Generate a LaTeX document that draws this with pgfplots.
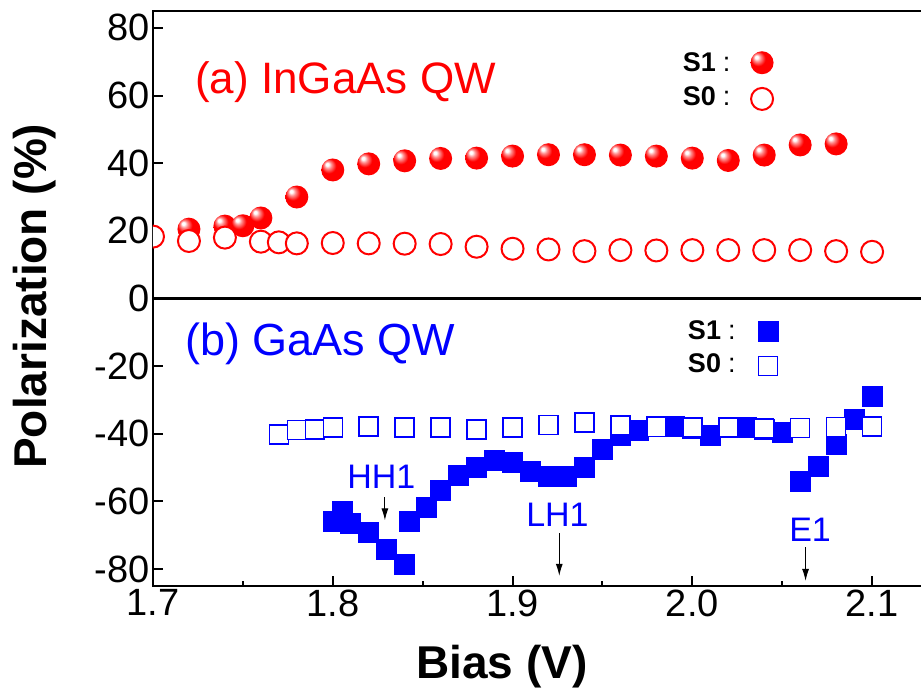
\documentclass[border=0pt]{standalone}
\usepackage{fontspec}
\setmainfont{Liberation Sans}
\usepackage{pgfplots}
\pgfplotsset{compat=1.18}
\usetikzlibrary{arrows.meta}
\definecolor{pred}{RGB}{255,0,0}
\definecolor{pblue}{RGB}{0,0,255}
\pgfdeclareradialshading{redballshade}{\pgfpoint{-13bp}{13bp}}{color(0bp)=(white); color(3bp)=(white); color(8bp)=(pred!45!white); color(16bp)=(pred); color(50bp)=(pred)}
\pgfdeclareplotmark{redball}{%
  \pgfpathcircle{\pgfpointorigin}{\pgfplotmarksize}%
  \pgfshadepath{redballshade}{0}%
  \pgfusepath{discard}}
\begin{document}
\begin{tikzpicture}
\begin{axis}[
  scale only axis, width=782pt, height=575pt,
  at={(0pt,0pt)}, anchor=south west,
  xmin=1.7, xmax=2.135, ymin=-85, ymax=85,
  xtick={1.7,1.8,1.9,2.0,2.1},
  xticklabels={1.7,1.8,1.9,2.0,2.1},
  minor xtick={1.75,1.85,1.95,2.05},
  ytick={-80,-60,-40,-20,0,20,40,60,80},
  xtick pos=left, ytick pos=left,
  tick align=inside,
  major tick length=10pt, minor tick length=5pt,
  every tick/.style={black, line width=2pt},
  axis line style={line width=2.7pt},
  tick label style={font=\fontsize{38}{40}\selectfont},
  /pgf/number format/assume math mode=true,
  xlabel={Bias (V)}, ylabel={Polarization (\%)},
  label style={font=\fontsize{46}{48}\selectfont\bfseries},
  xlabel style={at={(axis description cs:0.446,-0.140)}, anchor=center},
  ylabel style={at={(axis description cs:-0.151,0.504)}, anchor=center},
  only marks,
  clip marker paths=true,
]
% zero line
\draw[line width=2.7pt, black] (axis cs:1.7,0) -- (axis cs:2.135,0);

% InGaAs S1 (filled spheres)
\addplot[mark=redball, mark size=11.5pt] coordinates {
(1.72,20.5)(1.74,21.4)(1.75,21.5)(1.76,23.8)(1.78,30.0)(1.80,38.0)(1.82,39.8)(1.84,40.7)(1.86,41.4)(1.88,41.5)(1.90,42.1)(1.92,42.5)(1.94,42.5)(1.96,42.4)(1.98,42.1)(2.00,41.5)(2.02,40.8)(2.04,42.4)(2.06,45.4)(2.08,45.7)
};
% InGaAs S0 (open circles)
\addplot[mark=*, mark size=11pt, mark options={draw=pred, fill=white, line width=2pt}] coordinates {
(1.70,18.3)(1.72,17.0)(1.74,18.0)(1.76,16.8)(1.77,16.6)(1.78,16.3)(1.80,16.4)(1.82,16.3)(1.84,16.2)(1.86,16.1)(1.88,15.3)(1.90,14.7)(1.92,14.5)(1.94,14.0)(1.96,14.3)(1.98,14.2)(2.00,14.3)(2.02,14.3)(2.04,14.3)(2.06,14.3)(2.08,14.0)(2.10,13.8)
};
% GaAs S1 (filled squares)
\addplot[mark=square*, mark size=10pt, mark options={draw=pblue, fill=pblue, line width=0.5pt}] coordinates {
(1.80,-66.0)(1.805,-63.0)(1.81,-66.5)(1.82,-69.0)(1.83,-74.0)(1.84,-78.6)(1.8425,-66.0)(1.852,-61.6)(1.86,-56.7)(1.87,-52.4)(1.88,-49.8)(1.89,-47.8)(1.90,-48.3)(1.91,-51.2)(1.92,-52.7)(1.93,-52.5)(1.94,-50.0)(1.95,-44.5)(1.96,-40.4)(1.97,-38.9)(1.98,-37.9)(1.99,-37.9)(2.00,-38.4)(2.01,-40.4)(2.02,-38.2)(2.03,-38.2)(2.04,-38.7)(2.05,-39.4)(2.06,-54.0)(2.07,-49.6)(2.08,-43.1)(2.09,-35.7)(2.10,-29.0)
};
% GaAs S0 (open squares)
\addplot[mark=square*, mark size=9.5pt, mark options={draw=pblue, fill=white, line width=1.5pt}] coordinates {
(1.77,-40.2)(1.78,-38.9)(1.79,-38.7)(1.80,-38.1)(1.82,-37.9)(1.84,-38.1)(1.86,-38.2)(1.88,-38.7)(1.90,-38.1)(1.92,-37.4)(1.94,-36.6)(1.96,-37.5)(1.98,-38.0)(2.00,-38.1)(2.02,-38.2)(2.04,-38.5)(2.06,-38.3)(2.08,-38.0)(2.10,-37.9)
};

% legend markers
\addplot[mark=redball, mark size=11.5pt] coordinates {(2.0388,69.7)};
\addplot[mark=*, mark size=11pt, mark options={draw=pred, fill=white, line width=2pt}] coordinates {(2.0388,59.0)};
\addplot[mark=square*, mark size=10pt, mark options={draw=pblue, fill=pblue}] coordinates {(2.042,-9.6)};
\addplot[mark=square*, mark size=9.5pt, mark options={draw=pblue, fill=white, line width=1.5pt}] coordinates {(2.042,-20.0)};

% legend texts
\node[anchor=base east, font=\fontsize{27}{28}\selectfont] at (axis cs:2.0232,67.0) {\textbf{S1}\hspace{7pt}:};
\node[anchor=base east, font=\fontsize{27}{28}\selectfont] at (axis cs:2.0232,57.2) {\textbf{S0}\hspace{7pt}:};
\node[anchor=base east, font=\fontsize{27}{28}\selectfont] at (axis cs:2.026,-12.0) {\textbf{S1}\hspace{7pt}:};
\node[anchor=base east, font=\fontsize{27}{28}\selectfont] at (axis cs:2.026,-22.0) {\textbf{S0}\hspace{7pt}:};

% panel titles
\node[anchor=base west, inner sep=0pt, text=pred, font=\fontsize{44}{46}\selectfont] at (axis cs:1.7234,60.5) {(a) InGaAs QW};
\node[anchor=base west, inner sep=0pt, text=pblue, font=\fontsize{45}{47}\selectfont] at (axis cs:1.7178,-17.0) {(b) GaAs QW};

% transition labels
\node[text=pblue, inner sep=0pt, font=\fontsize{34}{36}\selectfont] at (axis cs:1.827,-52.8) {HH1};
\node[text=pblue, inner sep=0pt, font=\fontsize{34}{36}\selectfont] at (axis cs:1.925,-64.0) {LH1};
\node[text=pblue, inner sep=0pt, font=\fontsize{34}{36}\selectfont] at (axis cs:2.0655,-68.5) {E1};
\draw[line width=1pt, -{Latex[length=12pt,width=7pt]}] (axis cs:1.829,-58.7) -- (axis cs:1.829,-65.6);
\draw[line width=1pt, -{Latex[length=12pt,width=7pt]}] (axis cs:1.926,-69.4) -- (axis cs:1.926,-82.0);
\draw[line width=1pt, -{Latex[length=12pt,width=7pt]}] (axis cs:2.063,-73.5) -- (axis cs:2.063,-83.5);
\end{axis}
\pgfresetboundingbox
\useasboundingbox (-153pt,-109pt) rectangle (768pt,586pt);
\end{tikzpicture}
\end{document}
